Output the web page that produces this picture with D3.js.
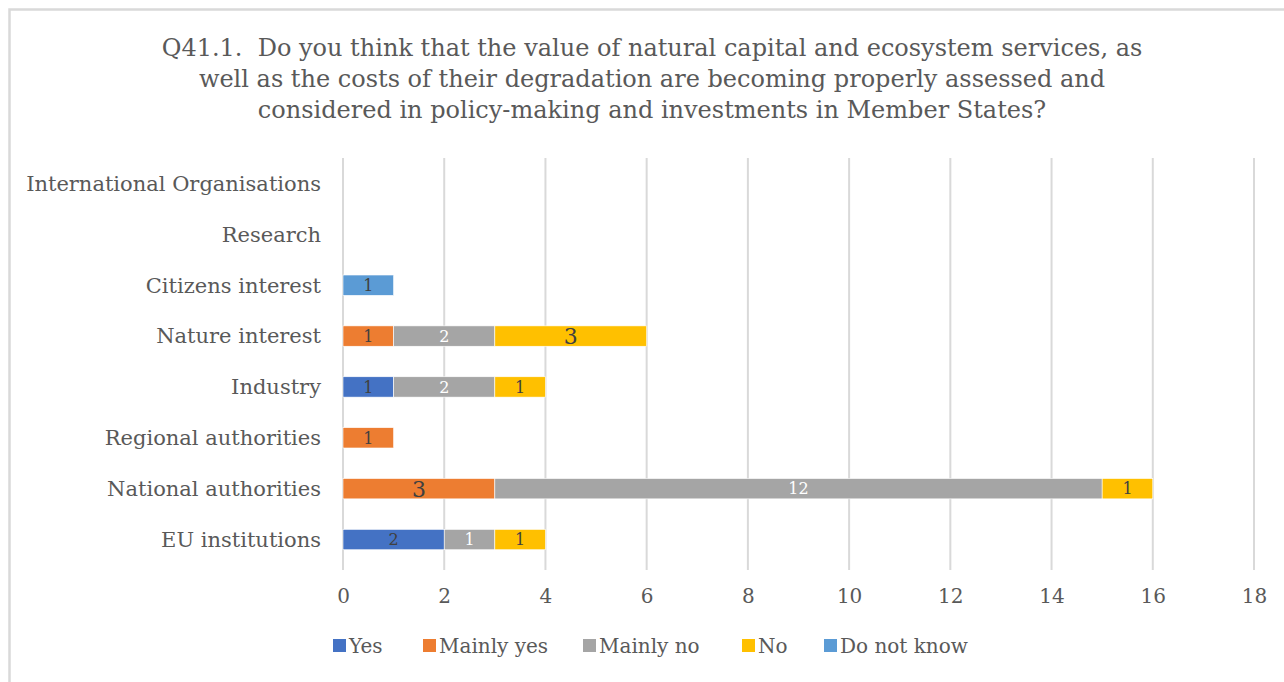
<!DOCTYPE html>
<html>
<head>
<meta charset="utf-8">
<script src="https://cdn.jsdelivr.net/npm/d3@7"></script>
<style>
  html, body { margin: 0; padding: 0; background: #fff; }
  svg { display: block; }
  text { font-family: "DejaVu Serif", "Liberation Serif", serif; white-space: pre; }
</style>
</head>
<body>
<svg id="chart" width="1284" height="682"></svg>
<script>
// Respondent groups, top to bottom
const categories = [
  "International Organisations",
  "Research",
  "Citizens interest",
  "Nature interest",
  "Industry",
  "Regional authorities",
  "National authorities",
  "EU institutions"
];
const seriesNames = ["Yes", "Mainly yes", "Mainly no", "No", "Do not know"];
const seriesColors = ["#4472C4", "#ED7D31", "#A5A5A5", "#FFC000", "#5B9BD5"];

// Answer counts per group, one array per answer
const yesValues       = [0, 0, 0, 0, 1, 0, 0, 2];
const mainlyYesValues = [0, 0, 0, 1, 0, 1, 3, 0];
const mainlyNoValues  = [0, 0, 0, 2, 2, 0, 12, 1];
const noValues        = [0, 0, 0, 3, 1, 0, 1, 1];
const doNotKnowValues = [0, 0, 1, 0, 0, 0, 0, 0];
const xTicks = [0, 2, 4, 6, 8, 10, 12, 14, 16, 18];

const titleLines = [
  "Q41.1.  Do you think that the value of natural capital and ecosystem services, as",
  "well as the costs of their degradation are becoming properly assessed and",
  "considered in policy-making and investments in Member States?"
];

const seriesValues = [yesValues, mainlyYesValues, mainlyNoValues, noValues, doNotKnowValues];
const rows = categories.map((c, i) => {
  const r = { category: c };
  seriesNames.forEach((s, k) => { r[s] = seriesValues[k][i]; });
  return r;
});
const stacked = d3.stack().keys(seriesNames)(rows);

const svg = d3.select("#chart");
const textColor = "#595959";

// chart frame
svg.append("rect")
  .attr("x", 9.5).attr("y", 9.5)
  .attr("width", 1300).attr("height", 700)
  .attr("fill", "#fff")
  .attr("stroke", "#D9D9D9").attr("stroke-width", 2.5);

// title
svg.append("g").selectAll("text")
  .data(titleLines).join("text")
  .attr("x", 652).attr("y", (d, i) => 56 + i * 31)
  .attr("text-anchor", "middle")
  .attr("fill", textColor)
  .style("font-size", "24px")
  .text(d => d);

const plotLeft = 343, plotRight = 1254, plotTop = 158, plotBottom = 565;
const x = d3.scaleLinear().domain([0, 18]).range([plotLeft, plotRight]);
const y = d3.scaleBand().domain(categories).range([plotTop, plotBottom]).paddingInner(0.6).paddingOuter(0.3);

// vertical gridlines
svg.append("g").selectAll("line")
  .data(xTicks).join("line")
  .attr("x1", d => x(d)).attr("x2", d => x(d))
  .attr("y1", plotTop).attr("y2", plotBottom + 5)
  .attr("stroke", "#D9D9D9").attr("stroke-width", 2);

// x axis labels
const xAxis = d3.axisBottom(x).tickValues(xTicks).tickSize(0).tickPadding(0);
const gx = svg.append("g").attr("transform", `translate(0, ${plotBottom + 38})`).call(xAxis);
gx.select(".domain").remove();
gx.selectAll("text")
  .attr("fill", textColor).attr("dy", 0)
  .style("font-size", "20px")
  .style("font-family", '"DejaVu Serif", serif');

// category labels
const yAxis = d3.axisLeft(y).tickSize(0).tickPadding(22);
const gy = svg.append("g").attr("transform", `translate(${plotLeft}, 0)`).call(yAxis);
gy.select(".domain").remove();
gy.selectAll("text")
  .attr("fill", textColor)
  .attr("dy", "0.35em")
  .style("font-size", "21px")
  .style("font-family", '"DejaVu Serif", serif');

// stacked bars
const layers = svg.append("g").selectAll("g")
  .data(stacked).join("g")
  .attr("fill", (d, i) => seriesColors[i]);

layers.selectAll("rect")
  .data(d => d.filter(p => p[1] - p[0] > 0).map(p => ({ p, key: d.key })))
  .join("rect")
  .attr("x", d => x(d.p[0]))
  .attr("y", d => y(d.p.data.category))
  .attr("width", d => x(d.p[1]) - x(d.p[0]))
  .attr("height", y.bandwidth())
  .attr("stroke", "#fff").attr("stroke-width", 0.6);

// value labels
layers.selectAll("text")
  .data(d => d.filter(p => p[1] - p[0] > 0).map(p => ({ p, key: d.key })))
  .join("text")
  .attr("x", d => (x(d.p[0]) + x(d.p[1])) / 2)
  .attr("y", d => y(d.p.data.category) + y.bandwidth() / 2)
  .attr("dy", "0.36em")
  .attr("text-anchor", "middle")
  .attr("fill", d => d.key === "Mainly no" ? "#fff" : "#404040")
  .style("font-size", d => (d.p[1] - d.p[0]) === 3 ? "22px" : "16px")
  .text(d => d.p[1] - d.p[0]);

// legend
const legendX = [333, 423, 583, 742, 824];
const lg = svg.append("g").selectAll("g")
  .data(seriesNames).join("g")
  .attr("transform", (d, i) => `translate(${legendX[i]}, 639)`);
lg.append("rect").attr("width", 13).attr("height", 13).attr("fill", (d, i) => seriesColors[i]);
lg.append("text")
  .attr("x", 16).attr("y", 7).attr("dy", "0.35em")
  .attr("fill", textColor)
  .style("font-size", "20px")
  .text(d => d);
</script>
</body>
</html>
